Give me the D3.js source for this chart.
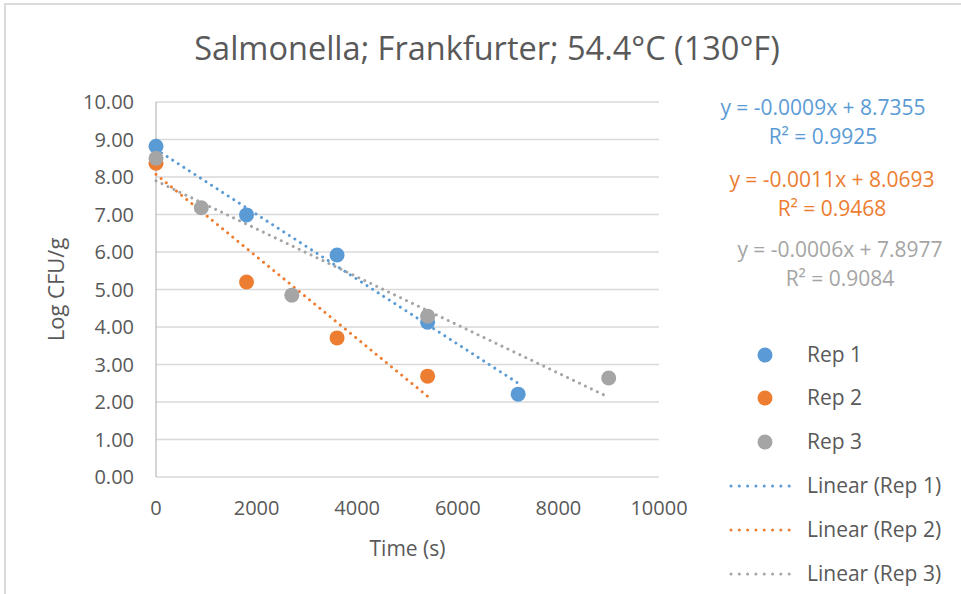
<!DOCTYPE html>
<html lang="en">
<head>
  <meta charset="UTF-8">
  <title>Salmonella; Frankfurter</title>
  <style>
    body {
      margin: 0;
      background-color: white;
      font-family: "Open Sans", sans-serif;
    }

    .grid line {
      stroke: #d9d9d9;
      stroke-width: 1.3;
    }

    .tick-label {
      fill: #595959;
      font-size: 20px;
    }

    .axis-title {
      fill: #595959;
      font-size: 21px;
    }

    .legend-text {
      fill: #595959;
      font-size: 21px;
    }

    .trend {
      fill: none;
      stroke-width: 3;
      stroke-linecap: round;
      stroke-dasharray: 0.01 6.6;
    }
  </style>
</head>
<body>
  <svg id="chart" width="961" height="594"></svg>

  <script src="https://d3js.org/d3.v7.min.js"></script>
  <script>
    // values
    var seriesNames = ["Rep 1", "Rep 2", "Rep 3"];
    var seriesColors = ["#5b9bd5", "#ed7d31", "#a5a5a5"];

    var rep1Time = [0, 1800, 3600, 5400, 7200];
    var rep1Log = [8.82, 6.99, 5.92, 4.13, 2.21];

    var rep2Time = [0, 1800, 3600, 5400];
    var rep2Log = [8.37, 5.20, 3.71, 2.69];

    var rep3Time = [0, 900, 2700, 5400, 9000];
    var rep3Log = [8.50, 7.18, 4.85, 4.29, 2.64];

    // trendline intercepts as labelled, slopes estimated from drawn lines
    var trendIntercept = [8.7355, 8.0693, 7.8977];
    var trendSlope = [-0.000866, -0.001096, -0.000641];

    var eqLabels = ["y = -0.0009x + 8.7355", "y = -0.0011x + 8.0693", "y = -0.0006x + 7.8977"];
    var r2Labels = ["R² = 0.9925", "R² = 0.9468", "R² = 0.9084"];

    var xTicks = [0, 2000, 4000, 6000, 8000, 10000];
    var yTicks = [0, 1, 2, 3, 4, 5, 6, 7, 8, 9, 10];

    var series = [
      { time: rep1Time, log: rep1Log },
      { time: rep2Time, log: rep2Log },
      { time: rep3Time, log: rep3Log }
    ];

    var svg = d3.select("#chart");

    // outer chart border (only top and left visible in the crop)
    svg.append("path")
      .attr("d", "M5,594 L5,4 L961,4")
      .attr("fill", "none")
      .attr("stroke", "#d9d9d9")
      .attr("stroke-width", 2);

    var x = d3.scaleLinear().domain([0, 10000]).range([156, 659]);
    var y = d3.scaleLinear().domain([0, 10]).range([477, 102]);

    // horizontal gridlines
    svg.append("g").attr("class", "grid")
      .selectAll("line")
      .data(yTicks)
      .enter().append("line")
      .attr("x1", x(0))
      .attr("x2", x(10000))
      .attr("y1", function(d) { return y(d); })
      .attr("y2", function(d) { return y(d); });

    // vertical axis line
    svg.append("line")
      .attr("x1", x(0)).attr("x2", x(0))
      .attr("y1", y(10)).attr("y2", y(0))
      .attr("stroke", "#bfbfbf")
      .attr("stroke-width", 1.3);

    svg.selectAll(".ylab")
      .data(yTicks)
      .enter().append("text")
      .attr("class", "tick-label ylab")
      .attr("x", 134)
      .attr("y", function(d) { return y(d) + 7; })
      .attr("text-anchor", "end")
      .text(function(d) { return d3.format(".2f")(d); });

    svg.selectAll(".xlab")
      .data(xTicks)
      .enter().append("text")
      .attr("class", "tick-label xlab")
      .attr("x", function(d) { return x(d); })
      .attr("y", 515)
      .attr("text-anchor", "middle")
      .text(function(d) { return d; });

    // titles
    svg.append("text")
      .attr("x", 487)
      .attr("y", 60)
      .attr("text-anchor", "middle")
      .attr("fill", "#595959")
      .style("font-size", "32.5px")
      .text("Salmonella; Frankfurter; 54.4°C (130°F)");

    svg.append("text")
      .attr("class", "axis-title")
      .attr("x", (x(0) + x(10000)) / 2)
      .attr("y", 556)
      .attr("text-anchor", "middle")
      .text("Time (s)");

    svg.append("text")
      .attr("class", "axis-title")
      .style("font-size", "22px")
      .attr("transform", "translate(64," + ((y(0) + y(10)) / 2) + ") rotate(-90)")
      .attr("text-anchor", "middle")
      .text("Log CFU/g");

    // trendlines
    series.forEach(function(s, i) {
      var xEnd = d3.max(s.time);
      svg.append("line")
        .attr("class", "trend")
        .attr("stroke", seriesColors[i])
        .attr("x1", x(0))
        .attr("y1", y(trendIntercept[i]))
        .attr("x2", x(xEnd))
        .attr("y2", y(trendIntercept[i] + trendSlope[i] * xEnd));
    });

    // markers, drawn in series order so Rep 3 sits on top
    series.forEach(function(s, i) {
      svg.append("g")
        .selectAll("circle")
        .data(s.time.map(function(t, k) { return [t, s.log[k]]; }))
        .enter().append("circle")
        .attr("cx", function(d) { return x(d[0]); })
        .attr("cy", function(d) { return y(d[1]); })
        .attr("r", 7.5)
        .attr("fill", seriesColors[i]);
    });

    // equation labels
    var eqX = [823, 832, 840];
    var eqY = [115, 187, 257];
    eqLabels.forEach(function(t, i) {
      svg.append("text")
        .attr("x", eqX[i]).attr("y", eqY[i])
        .attr("text-anchor", "middle")
        .attr("fill", seriesColors[i])
        .style("font-size", "21px")
        .text(t);
      svg.append("text")
        .attr("x", eqX[i]).attr("y", eqY[i] + 29)
        .attr("text-anchor", "middle")
        .attr("fill", seriesColors[i])
        .style("font-size", "21px")
        .text(r2Labels[i]);
    });

    // legend
    var legendMarkY = [355, 398, 442];
    var legendLineY = [486, 530, 574];

    seriesNames.forEach(function(name, i) {
      svg.append("circle")
        .attr("cx", 765).attr("cy", legendMarkY[i])
        .attr("r", 7.5)
        .attr("fill", seriesColors[i]);
      svg.append("text")
        .attr("class", "legend-text")
        .attr("x", 807).attr("y", legendMarkY[i] + 7)
        .text(name);

      svg.append("line")
        .attr("class", "trend")
        .attr("stroke", seriesColors[i])
        .style("stroke-dasharray", "0.01 8.3")
        .attr("x1", 731).attr("x2", 797)
        .attr("y1", legendLineY[i]).attr("y2", legendLineY[i]);
      svg.append("text")
        .attr("class", "legend-text")
        .attr("x", 807).attr("y", legendLineY[i] + 7)
        .text("Linear (" + name + ")");
    });
  </script>
</body>
</html>
